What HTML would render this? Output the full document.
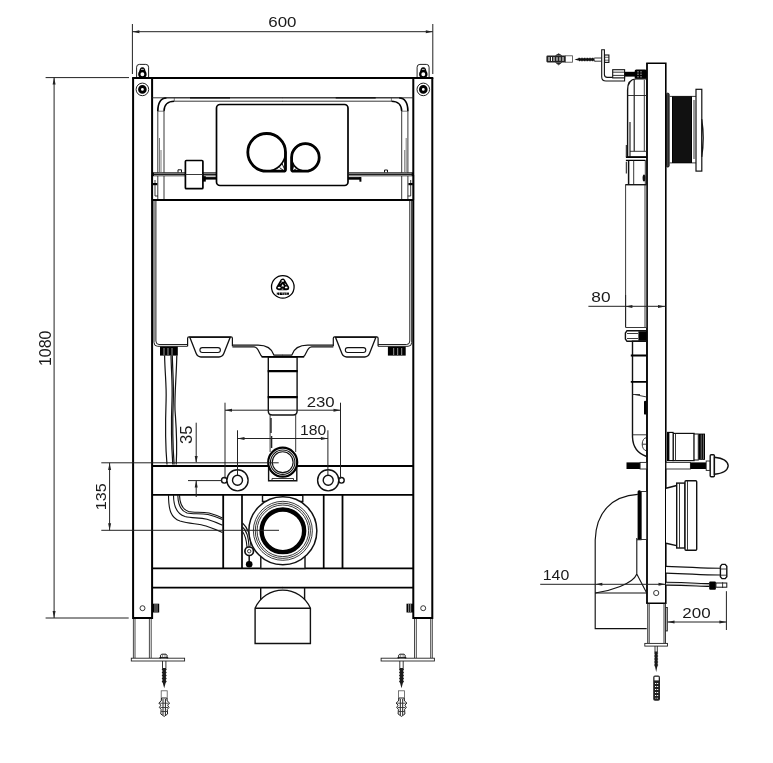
<!DOCTYPE html>
<html><head><meta charset="utf-8">
<style>
html,body{margin:0;padding:0;background:#fff;}
svg{display:block;will-change:transform;opacity:.999}
text{font-family:"Liberation Sans",sans-serif;font-size:16px;fill:#1a1a1a}
.k{stroke:#000;stroke-width:1.6;fill:none}
.m{stroke:#111;stroke-width:1.4;fill:none}
.t{stroke:#222;stroke-width:.9;fill:none}
.h{stroke:#444;stroke-width:.7;fill:none}
.d{stroke:#222;stroke-width:1;fill:none}
.w{fill:#fff}
.b{fill:#000;stroke:none}
</style></head><body>
<svg width="773" height="763" viewBox="0 0 773 763">
<rect width="773" height="763" fill="#fff"/>
<defs>
<!-- arrow head pointing right, tip at 0,0 -->
<path id="ar" d="M0,0L-7,-1.5L-7,1.5Z" fill="#222"/>
<!-- left half of front view (mirrored about x=282.85) -->
<g id="half">
  <!-- post -->
  <!-- top bracket -->
  <path class="t w" d="M136.6,78V67.2Q136.6,64.4 139.4,64.4H145.8Q148.6,64.4 148.6,67.2V78Z" style="stroke-width:1"/>
  <path d="M139.2,73Q139.2,67.3 142.4,67.3Q145.6,67.3 145.6,73Z" fill="#000"/>
  <path d="M141,69.4H143.8" stroke="#fff" stroke-width=".7"/>
  <circle cx="142.4" cy="74.3" r="3.1" fill="#fff" stroke="#000" stroke-width="2.3"/>
  <!-- bolt -->
  <circle class="t" cx="142.4" cy="89.4" r="6.3" style="stroke-width:1"/>
  <circle cx="142.4" cy="89.4" r="2.85" fill="#fff" stroke="#000" stroke-width="2.9"/>
  <!-- tube frame -->
  <path class="t" d="M157.8,200V111.2M164,200V111.2M166.6,97.8H283M174.3,101.2H283"/>
  <path class="k" d="M157.8,111.2C157.8,103 161,97.8 166.6,97.8" style="stroke-width:1.7"/>
  <path class="k" d="M164,111.2C164,105 168,101.2 174.3,101.2" style="stroke-width:1.5"/>
  <path class="h" d="M157.8,111.2H164M174.3,97.8V101.2"/>
  <path class="k" d="M190,97.8H230" style="stroke-width:1.6"/>
  <path class="h" d="M159.5,138V172M161,150V172"/>
  <!-- rail -->
  <path d="M152,174.3H217" stroke="#111" stroke-width="4" fill="none"/><path d="M154,173.3H217M154,175.4H217" stroke="#ccc" stroke-width=".7" fill="none"/>
  <path class="t" d="M152,175V200M155,180V196H158"/>
  <!-- cistern half -->
  <path class="t" d="M154,200V342.5Q154,346.3 157.6,346.3H187.6" style="stroke-width:1"/>
  <path class="t" d="M155.9,200V341Q155.9,344.5 159,344.5H187.6" style="stroke-width:1"/>
  <path class="m" d="M232.4,345.2H258C266,345.2 272,349 274,355.2H283" style="stroke-width:1.2"/>
  <path class="m" d="M232.4,346.9H254C259.5,347.2 258.5,355 262.5,356.7H283" style="stroke-width:1.2"/>
  <!-- handle -->
  <path class="m w" d="M187.6,346.3V338.2Q187.6,336.9 189,336.9H231Q232.4,336.9 232.4,338.2V346.3" style="stroke-width:1.2"/>
  <path class="m w" d="M189.8,337.3L196.2,353.6Q197.6,357 201,357H219Q222.4,357 223.8,353.6L230.2,337.3Z" style="stroke-width:1.3"/>
  <rect class="m" x="199.9" y="347.6" width="20.5" height="4.9" rx="2.45" style="stroke-width:1.1"/>
  <!-- nut -->
  <rect class="b" x="160" y="346.6" width="17.8" height="9"/>
  <path stroke="#fff" stroke-width=".6" d="M164,348V355M168,348V355M172,348V355"/>
  <!-- crossbars -->
  <path class="k" d="M152,466H283M152,494.8H283M152,568.4H283M152,587.6H283" style="stroke-width:1.8"/>
  <!-- dividers -->
  <path class="k" d="M223.2,494.7V568.5" style="stroke-width:1.8"/>
  <path class="k" d="M242,494.7V568.5" style="stroke-width:1.7"/>
  <!-- stud -->
  <circle class="m w" cx="224.3" cy="480.3" r="2.8"/>
  <circle class="m w" cx="237.5" cy="480.3" r="10.6"/>
  <circle class="m w" cx="237.5" cy="480.3" r="5"/>
  <!-- foot -->
  <circle class="t" cx="142.5" cy="608.2" r="2.5"/>
  <rect class="b" x="152.6" y="603.7" width="6.6" height="8.8"/>
  <path stroke="#fff" stroke-width=".6" d="M155,604V612M157,604V612"/>
  <path class="t" d="M133.4,618V658M135,618V658M149.4,618V658M151.2,618V658" style="stroke:#333"/>
  <rect class="t w" x="131.3" y="658.2" width="53.3" height="2.8"/>
  <path d="M160.6,658.3V655.2L161.6,654.2H166L167,655.2V658.3" fill="#fff" stroke="#111" stroke-width="1"/>
  <path d="M159.4,657.7H168.2" stroke="#111" stroke-width="1.2"/>
  <path d="M162.6,655V657.5M165,655V657.5" stroke="#333" stroke-width=".6"/>
  <!-- screw -->
  <path d="M162.5,661V668.5M165.9,661V668.5" stroke="#222" stroke-width=".9" fill="none"/>
  <path d="M162.5,668H165.9L166.7,669.5L165.7,671L166.7,672.5L165.7,674L166.7,675.5L165.7,677L166.7,678.5L165.7,680L166.7,681.5L165.6,683L164.2,688.3L162.8,683L161.7,681.5L162.7,680L161.7,678.5L162.7,677L161.7,675.5L162.7,674L161.7,672.5L162.7,671L161.7,669.5Z" fill="#1a1a1a"/>
  <!-- plug -->
  <rect x="161.2" y="690.8" width="6" height="8.4" fill="#fff" stroke="#555" stroke-width=".8"/>
  <path d="M161.6,698H166.8L167.2,701L169.6,703L167.6,705.2L169,707.5L167.3,709.3L167.6,714L164.2,716.4L160.8,714L161.1,709.3L159.4,707.5L160.8,705.2L158.8,703L161.2,701Z" fill="#fff" stroke="#222" stroke-width="1"/>
  <path d="M163,699V715M165.4,699V715" stroke="#222" stroke-width="1"/>
  <path d="M160,703.2H168.4M160.4,707.5H168M161.2,711.5H167.2" stroke="#333" stroke-width=".9"/>
</g>
</defs>

<!-- ============ FRONT VIEW ============ -->
<use href="#half"/>
<use href="#half" transform="translate(565.7,0) scale(-1,1)"/>
<!-- posts -->
<path class="k" d="M133.1,78V618M152.1,78V618M132.1,618H153.1M413.3,78V618M432.3,78V618M412.3,618H433.3" style="stroke-width:2"/>
<!-- top beam -->
<path class="k" d="M132.1,78H433.3" style="stroke-width:1.9"/>
<path class="t" d="M152,97.8H413.7"/>
<!-- cistern top -->
<path class="k" d="M152,200H413.7" style="stroke-width:1.8"/>

<!-- small box on rail -->
<rect x="185.4" y="160.5" width="17.5" height="28.2" rx="1" fill="#fff" stroke="#000" stroke-width="1.7"/>
<path class="t" d="M185.3,174.5H203"/>
<path class="m" d="M178,172.4V169.8H181.5V172.4" style="stroke-width:1"/>
<rect class="b" x="203" y="176.2" width="2.8" height="5.4"/>
<rect class="b" x="205" y="177.1" width="12" height="2.5"/>
<path class="m" d="M384.5,172.4V170H387.5V172.4" style="stroke-width:1"/>
<rect class="b" x="348" y="177.1" width="13" height="2.6"/><rect class="b" x="359.4" y="177.1" width="2" height="4.6"/>
<rect class="b" x="152.8" y="183" width="4.5" height="2.2"/>
<rect class="b" x="408.4" y="183" width="4.5" height="2.2"/>
<!-- flush plate -->
<rect x="216.5" y="104.5" width="131.5" height="81" rx="3.5" fill="#fff" stroke="#000" stroke-width="1.7"/>
<g fill="none" stroke="#000">
<circle cx="266.65" cy="152.35" r="18.85" fill="#fff" stroke-width="1.6"/>
<path d="M285.5,152.35A18.85,18.85 0 1 0 266.65,171.2H283.5Q285.5,171.2 285.5,169.2Z" stroke-width="2.8" stroke-linejoin="round"/>
<path d="M279.5,167.5L283.5,170.5M282,163.5L284.5,169" stroke-width=".9"/>
<circle cx="305.4" cy="157.4" r="13.8" fill="#fff" stroke-width="1.6"/>
<path d="M291.6,157.4A13.8,13.8 0 1 1 305.4,171.2H293.6Q291.6,171.2 291.6,169.2Z" stroke-width="2.8" stroke-linejoin="round"/>
<path d="M296.5,168.5L293.5,170.5M294,165L292.8,169" stroke-width=".9"/>
</g>
<!-- logo -->
<circle cx="282.8" cy="286.9" r="11.3" fill="none" stroke="#000" stroke-width="1.25"/>
<path d="M282.7,281.1L278.7,287.7H286.7Z" fill="#000" stroke="#000" stroke-width="5" stroke-linejoin="round"/>
<path d="M282.7,284L281.2,286.4H284.2Z" fill="#fff"/>
<ellipse cx="282.7" cy="280.9" rx="1.3" ry=".9" fill="#fff"/>
<ellipse cx="279.2" cy="287.6" rx="1.5" ry=".9" fill="#fff"/>
<ellipse cx="286.2" cy="287.4" rx="1.4" ry=".9" fill="#fff"/>
<path d="M280.4,283.4L281.6,282.4M285,283.6L286,285.2M281.6,289.2H283.4" stroke="#fff" stroke-width=".7" fill="none"/>
<path d="M276.8,293.7H289" stroke="#000" stroke-width="2.6" stroke-dasharray="2.7,.5" fill="none"/>
<path d="M277.6,292.4V293.2M277.6,294.2V295M281.6,293.2H282.4M284.2,293.2H285.2M284.2,294.4H285.2M288,292.4V293.2M288,294.2V295" stroke="#fff" stroke-width=".7" fill="none"/>
<!-- pipe -->
<path class="m w" d="M268.3,357V411Q268.3,415 272.3,415H293.1Q297.1,415 297.1,411V357Z"/>
<rect class="b" x="261.5" y="356" width="42.7" height="1.6"/>
<path class="k" d="M267.7,371.2H297.7M267.7,397.2H297.7" style="stroke-width:2.2"/>
<path class="t" d="M270.1,415V452M295.7,415V452"/>
<path class="t" d="M271,418V433M271.6,436V448" style="stroke-width:1.4"/>

<!-- hoses upper -->
<g fill="none" stroke="#111" stroke-width="1.2">
<path d="M164.6,355.5C165,375 166.6,385 166.1,400C165.4,420 164.8,440 167,464.5"/>
<path d="M171,355.5C171.5,375 172.6,385 172,400C171.2,420 171,440 172.8,464.5"/>
<path d="M172.3,355.5C172.8,375 173.9,385 173.3,400C172.5,420 172.3,440 174.1,464.5"/>
<path d="M176.8,355.5C176.5,375 174.4,395 175,410C176,425 177.6,440 176.2,464.5"/>
</g>
<!-- hoses lower -->
<g fill="none" stroke="#111" stroke-width="1.1">
<path d="M168.5,495C168.5,510 171,518 180,521C190,524 198,523.5 206,526C212,528 217,530 222.5,532.5"/>
<path d="M173.5,495C173.5,507 177,514 185,516.5C192,518.5 199,517.2 207,519.2C213,521 218,523 222.5,525.2"/>
<path d="M177.8,495C178,504 181,511 187,513C193,514.5 200,513 208,514.5C214,516 218,517.5 222.5,519.5"/>
<path d="M179.5,495C179.7,503 182.5,509.5 188.5,511.5C194,513 201,511.5 209,513C214.5,514.5 218.5,516 222.5,518"/>
<path d="M242.5,523C247,527 250.5,535 251,546M242.5,527C246,530 248.5,537 249,546M242.5,531.5C245,535 246.5,540 247,547"/>
</g>
<!-- water inlet -->
<path class="m w" d="M268.6,462V480.7H296.8V462"/>
<path class="t" d="M272,480.7V478.5H293.5V480.7"/>
<circle cx="282.7" cy="462.2" r="14.5" fill="#fff" stroke="#000" stroke-width="2.2"/>
<circle class="m" cx="282.7" cy="462.2" r="12.2" style="stroke-width:1.1"/>
<circle class="m" cx="282.7" cy="462.2" r="10.4" style="stroke-width:1.1"/>

<!-- outlet -->
<path class="m w" d="M262.5,494.7H302.8V501.5H262.5Z"/>
<rect class="b" x="262.5" y="494" width="40.3" height="2"/>
<path class="m w" d="M260.8,545V568.5H305V545"/>
<circle class="m w" cx="282.85" cy="530.8" r="34" style="stroke-width:1.5"/>
<circle class="t" cx="282.85" cy="530.8" r="29.5"/>
<circle class="t" cx="282.85" cy="530.8" r="27.6"/>
<circle class="t" cx="282.85" cy="530.8" r="25.8"/>
<circle cx="282.85" cy="530.8" r="21.3" fill="#fff" stroke="#000" stroke-width="4.4"/>
<!-- valve -->
<path class="t" d="M249.2,556V562" style="stroke-width:1.6"/>
<circle class="m w" cx="249.2" cy="551.2" r="4.3" style="stroke-width:1.7"/>
<circle class="t" cx="249.2" cy="551.2" r="1.7"/>
<circle class="b" cx="249.2" cy="564.2" r="3.3"/>

<!-- cap -->
<path class="m" d="M260.7,587.5V600M304.6,587.5V600"/>
<path class="m w" d="M255.1,608.2A30.17,30.17 0 0 1 310.4,608.2V643.5H255.1Z"/>
<path class="m" d="M255.1,608.2H310.4"/>

<!-- ======= dimensions front ======= -->
<g class="d">
<path d="M132.4,24V74M432.8,24V74M132.4,31.7H432.8"/>
<path d="M45.6,77.6H129M54.1,77.5V618M45.6,618H128.7"/>
<path d="M101.3,462.8H278.7M101.3,530.3H279M109.6,462.8V530.3"/>
<path d="M225,402.7V478.6M340.5,402.7V478.6M225,410.2H340.5"/>
<path d="M237.5,430.3V475M327.9,430.3V475M237.5,438.5H327.9"/>
<path d="M196.2,422.7V462M196.2,481V497M188,480.6H222"/>
</g>
<use href="#ar" transform="translate(432.8,31.7)"/>
<use href="#ar" transform="translate(132.4,31.7) rotate(180)"/>
<use href="#ar" transform="translate(54.1,77.5) rotate(-90)"/>
<use href="#ar" transform="translate(54.1,618) rotate(90)"/>
<use href="#ar" transform="translate(109.6,463) rotate(-90)"/>
<use href="#ar" transform="translate(109.6,530.3) rotate(90)"/>
<use href="#ar" transform="translate(340.5,410.2)"/>
<use href="#ar" transform="translate(225,410.2) rotate(180)"/>
<use href="#ar" transform="translate(327.9,438.5)"/>
<use href="#ar" transform="translate(237.5,438.5) rotate(180)"/>
<use href="#ar" transform="translate(196.2,463) rotate(90)"/>
<use href="#ar" transform="translate(196.2,480.6) rotate(-90)"/>
<text transform="matrix(1.0574,0,0,0.8967,268.27,27.39)">600</text>
<text transform="matrix(1.0483,0,0,0.8615,306.71,406.59)">230</text>
<text transform="matrix(0.9809,0,0,0.8967,299.97,434.59)">180</text>
<text transform="translate(50.78,366.05) rotate(-90) scale(0.9985,0.9846)">1080</text>
<text transform="translate(105.88,510.26) rotate(-90) scale(1.0061,0.9582)">135</text>
<text transform="translate(192.38,444.05) rotate(-90) scale(1.0424,0.9846)">35</text>

<!-- ============ SIDE VIEW ============ -->
<g id="side">
<!-- post -->
<path class="k" d="M647,63.3V603.3" style="stroke-width:1.8"/><path class="k" d="M665.8,63.3V603.3M646.2,63.3H666.6M646.2,603.3H666.6" style="stroke-width:1.6"/>
<!-- top plug / screw / bracket -->
<path d="M547.5,55.6H565.5V62.4H547.5Q546.4,62.4 546.4,61.3V56.7Q546.4,55.6 547.5,55.6Z" fill="#222"/>
<path d="M555.5,55.6L558.6,53.8L561.8,55.6M555.5,62.4L558.6,64.8L561.8,62.4" fill="#222" stroke="#222" stroke-width=".8"/>
<path d="M549,57V61M551.5,57V61M554,57V61M557,57.2V60.8M560,57.2V60.8M563,57V61" stroke="#fff" stroke-width="1"/>
<rect x="565.5" y="55.8" width="7" height="6.4" fill="#fff" stroke="#444" stroke-width=".8"/>
<path d="M574.5,59.6L578,58.6L578.0,57.6L578.8,58.6L579.6,57.6L580.4,58.6L581.2,57.6L582.0,58.6L582.8,57.6L583.6,58.6L584.4,57.6L585.2,58.6L586.0,57.6L586.8,58.6L587.6,57.6L588.4,58.6L589.2,57.6L590.0,58.6L590.8,57.6L591.6,58.6L592.4,57.6L593.2,58.6L594.0,57.6L594.8,58.6L594.5,58V61.2L595.6,61.6L594.8,60.6L594.0,61.6L593.2,60.6L592.4,61.6L591.6,60.6L590.8,61.6L590.0,60.6L589.2,61.6L588.4,60.6L587.6,61.6L586.8,60.6L586.0,61.6L585.2,60.6L584.4,61.6L583.6,60.6L582.8,61.6L582.0,60.6L581.2,61.6L580.4,60.6L579.6,61.6L578.8,60.6L578,60.6Z" fill="#111"/>
<path d="M594.5,58H601.6M594.5,61.2H601.6" stroke="#222" stroke-width=".9" fill="none"/>
<path class="m w" d="M601.7,49.7H604.4V74.5Q604.4,77.4 607.3,77.4H624.6V81H606Q601.7,81 601.7,76.7Z" style="stroke-width:1.1"/>
<rect x="604.6" y="55" width="4.3" height="7.4" fill="#fff" stroke="#111" stroke-width="1.1"/>
<path d="M604.6,57.3H609M604.6,60.2H609" stroke="#222" stroke-width=".7"/>
<rect class="m w" x="612.7" y="69.7" width="11.9" height="8.2" style="stroke-width:1.1"/>
<path class="t" d="M612.7,72.2H624.6M612.7,75.4H624.6"/>
<rect class="b" x="624.6" y="71.8" width="22" height="4.8"/>
<rect class="b" x="634.7" y="69.6" width="12" height="9.2" rx="1.5"/>
<path d="M638,71V77.5M641,71V77.5" stroke="#fff" stroke-width=".7" stroke-dasharray="1.5,1"/>
<!-- cistern side upper -->
<path class="m w" d="M646.7,78.9H636Q627.6,79.5 627.6,90V157H646.7Z"/>
<path class="m" d="M634.2,80V151.3" style="stroke-width:1.1"/><path class="t" d="M627.6,95.5H646.7M630,151.3H646.7M644.3,80V151.3"/>
<path class="m" d="M630,122V157" style="stroke-width:1.1"/>
<path class="k" d="M625.9,157.2H646.7M625.9,160.4H645.5" style="stroke-width:1.4"/>
<path class="m" d="M626.3,145V157M626.3,161.7V173.5" style="stroke-width:1"/>
<path class="m" d="M628.6,160.4V184.6" style="stroke-width:1.5"/>
<path class="t" d="M633.7,160.4V184.6M645.3,160.4V184.6"/>
<ellipse cx="644" cy="178" rx="1.4" ry="3.6" fill="#111"/>
<!-- cistern side lower -->
<path class="t w" d="M625.6,184.5H646.7V327.5H625.6Z"/><path class="m" d="M625.6,184.8H646.7" style="stroke-width:1.2"/>
<path class="t" d="M645,184.5V327"/>
<!-- nut & pipe -->
<path class="m w" d="M627,330.7H646.7V341.3H627L625.4,339V333Z"/>
<rect class="b" x="638.4" y="331.3" width="8.3" height="9.4"/>
<path class="t" d="M627,333.5H638M627,338.5H638"/>
<path class="m w" d="M632.5,341.3V437Q633,452 646.7,456.5V341.3Z"/>
<path class="k" d="M630.8,355.5H646.7M630.8,381.9H646.7" style="stroke-width:1.8"/>
<path class="t" d="M632.5,394.5H640M635,394.6L646.7,397"/>
<path class="k" d="M645.2,402V413.4" style="stroke-width:2.4;stroke-linecap:round"/>
<path class="t" d="M632.5,434.8H646M646.4,437.7A4.2,6.5 0 0 0 646.4,450.7M642.2,444.2H646.4"/>
<!-- flush plate side -->
<rect x="666.4" y="93.2" width="2.7" height="73.8" rx="1.2" fill="#444" stroke="#111" stroke-width="1"/>
<path class="t" d="M669.6,96.4H696M669.6,162.9H696"/>
<rect class="b" x="672" y="96.3" width="20" height="66.7"/>
<path stroke="#444" stroke-width=".5" d="M674.0,97V162.5M676.0,97V162.5M678.0,97V162.5M680.0,97V162.5M682.0,97V162.5M684.0,97V162.5M686.0,97V162.5M688.0,97V162.5M690.0,97V162.5"/>
<rect class="m w" x="696" y="89.3" width="5.8" height="81.8" style="stroke-width:1.2"/>
<path class="t" d="M694,100V159"/>
<path class="m w" d="M701.8,119Q704.8,138 701.8,156.8Z" style="stroke-width:1.1"/>
<!-- water inlet connector -->
<rect class="m w" x="673.1" y="433.4" width="21" height="27.2" style="stroke-width:1.2"/>
<rect class="m w" x="694.1" y="434" width="4.2" height="26" style="stroke-width:1"/>
<rect class="b" x="698.8" y="433.6" width="6.2" height="26.2"/>
<path d="M701.2,434.5V459M703.4,434.5V459" stroke="#bbb" stroke-width=".6"/>
<rect x="667.6" y="432.4" width="5.5" height="28.2" fill="#fff" stroke="#000" stroke-width="1.1"/>
<rect class="b" x="667" y="432.4" width="2.4" height="28.2"/>
<path class="t" d="M675.5,433.4V460.6"/>
<!-- stud -->
<rect class="b" x="626.5" y="462.4" width="13.6" height="6.6"/>
<rect class="t w" x="640.1" y="462.4" width="6.6" height="6.6"/>
<rect class="t w" x="666" y="462.4" width="24.4" height="6.6"/>
<rect class="b" x="690.4" y="462.4" width="15.8" height="6.6"/>
<rect class="t w" x="706.2" y="461" width="4" height="9.4"/>
<rect class="m w" x="710.2" y="454.8" width="4.2" height="21.9" rx="1"/>
<path class="m w" d="M714.4,457.2Q727.5,458.5 728.2,465.7Q727.5,473 714.4,474.2Z"/>

<!-- outlet connector right -->
<path class="m w" d="M666,488.3L676.7,485.5V545.6L666,543.3"/>
<rect class="m w" x="676.7" y="483.1" width="8.3" height="64.9"/>
<rect class="m w" x="685" y="480.8" width="11.7" height="69.5" rx="1"/>
<path class="t" d="M679.5,483.1V548M687.5,480.8V550.3"/>
<!-- elbow left -->
<path class="m" d="M637.8,494.4C612,496 596,512 595.2,540V628.6H646.7" style="stroke-width:1.15"/>
<path class="m" d="M595.2,593H646.7" style="stroke-width:1.15"/>
<rect class="t w" x="641.3" y="491.5" width="5.4" height="48"/>
<rect class="b" x="637.6" y="490.2" width="3.4" height="49.5" rx="1.5"/>
<path class="m" d="M636.8,538V574C633,584 610,591 595.2,593M636.8,574L646.7,593M636.8,539.7H641.5" style="stroke-width:1.1"/>
<!-- circle on post -->
<circle class="t" cx="656.2" cy="593" r="2.6"/>
<!-- leg -->
<path class="t" d="M647.7,603.3V643.4M649.2,603.3V643.4M664,603.3V643.4M665.5,603.3V643.4" style="stroke:#222"/>
<rect class="t w" x="666" y="607.6" width="1.4" height="23.4" style="stroke-width:.8"/>
<rect class="t w" x="644.8" y="643.4" width="22.7" height="2.7"/>
<path d="M655,646V652M657.3,646V652" stroke="#222" stroke-width=".9" fill="none"/>
<path d="M655,651.6H657.3L658.3,652.3L657.3,653.1L658.3,653.8L657.3,654.6L658.3,655.3L657.3,656.1L658.3,656.8L657.3,657.6L658.3,658.3L657.3,659.1L658.3,659.8L657.3,660.6L658.3,661.3L657.3,662.1L658.3,662.8L657.3,663.6L658.3,664.3L657.3,665.1L658.3,665.8L657.3,666.6L656.2,672L655,666.6L654,665.8L655,665.1L654,664.3L655,663.6L654,662.8L655,662.1L654,661.3L655,660.6L654,659.8L655,659.1L654,658.3L655,657.6L654,656.8L655,656.1L654,655.3L655,654.6L654,653.8L655,653.1L654,652.3L655,651.6Z" fill="#1a1a1a"/>
<rect x="653.2" y="675.6" width="6.8" height="25.2" rx="1.8" fill="#222"/>
<rect x="654.5" y="676.8" width="4.2" height="3.6" fill="#fff"/>
<path d="M655,683.5H658.2M655,686.5H658.2M655,689.5H658.2M655,692.5H658.2M655,695.5H658.2M655.5,698.2H657.8" stroke="#fff" stroke-width="1.1"/>
<path d="M656.6,682V699" stroke="#222" stroke-width=".8"/>
<!-- hoses right -->
<g fill="none">
<path d="M666,569.7C690,570.2 700,571.6 720.4,571.6" stroke="#111" stroke-width="7.9"/>
<path d="M666,569.7C690,570.2 700,571.6 720.4,571.6" stroke="#fff" stroke-width="5.6"/>
<path d="M666,583.7C690,583.9 700,585 709.4,585" stroke="#111" stroke-width="3.9"/>
<path d="M666,583.7C690,583.9 700,585 709.4,585" stroke="#ddd" stroke-width="1.7"/>
</g>
<path class="m w" d="M722,564.4H725.2L726.8,566.2V576.8L725.2,578.6H722L720.4,576.8V566.2Z" style="stroke-width:1.4"/>
<path class="t" d="M720.4,569H726.8M720.4,575.2H726.8"/>
<rect class="b" x="709.2" y="581.4" width="6.7" height="8.3" rx="1"/>
<rect class="m w" x="715.9" y="583" width="10.9" height="4.2" style="stroke-width:1"/>
<path class="t" d="M722.6,582.2V588"/>
<!-- dims -->
<g class="d">
<path d="M588.4,306.3H665.5M625.6,295V327"/>
<path d="M540.2,584.3H666"/>
<path d="M667.5,622H726.4M726.4,591.2V630"/>
</g>
<use href="#ar" transform="translate(665,306.4)"/>
<use href="#ar" transform="translate(625.4,306.4) rotate(180)"/>
<use href="#ar" transform="translate(665.5,584.3)"/>
<use href="#ar" transform="translate(595.3,584.3) rotate(180)"/>
<use href="#ar" transform="translate(726.4,622)"/>
<use href="#ar" transform="translate(667.5,622) rotate(180)"/>
<text transform="matrix(1.0809,0,0,0.9231,591.29,302.38)">80</text>
<text transform="matrix(0.9930,0,0,0.9231,542.76,580.38)">140</text>
<text transform="matrix(1.0601,0,0,0.9495,682.30,618.38)">200</text>
</g>
</svg>
</body></html>
